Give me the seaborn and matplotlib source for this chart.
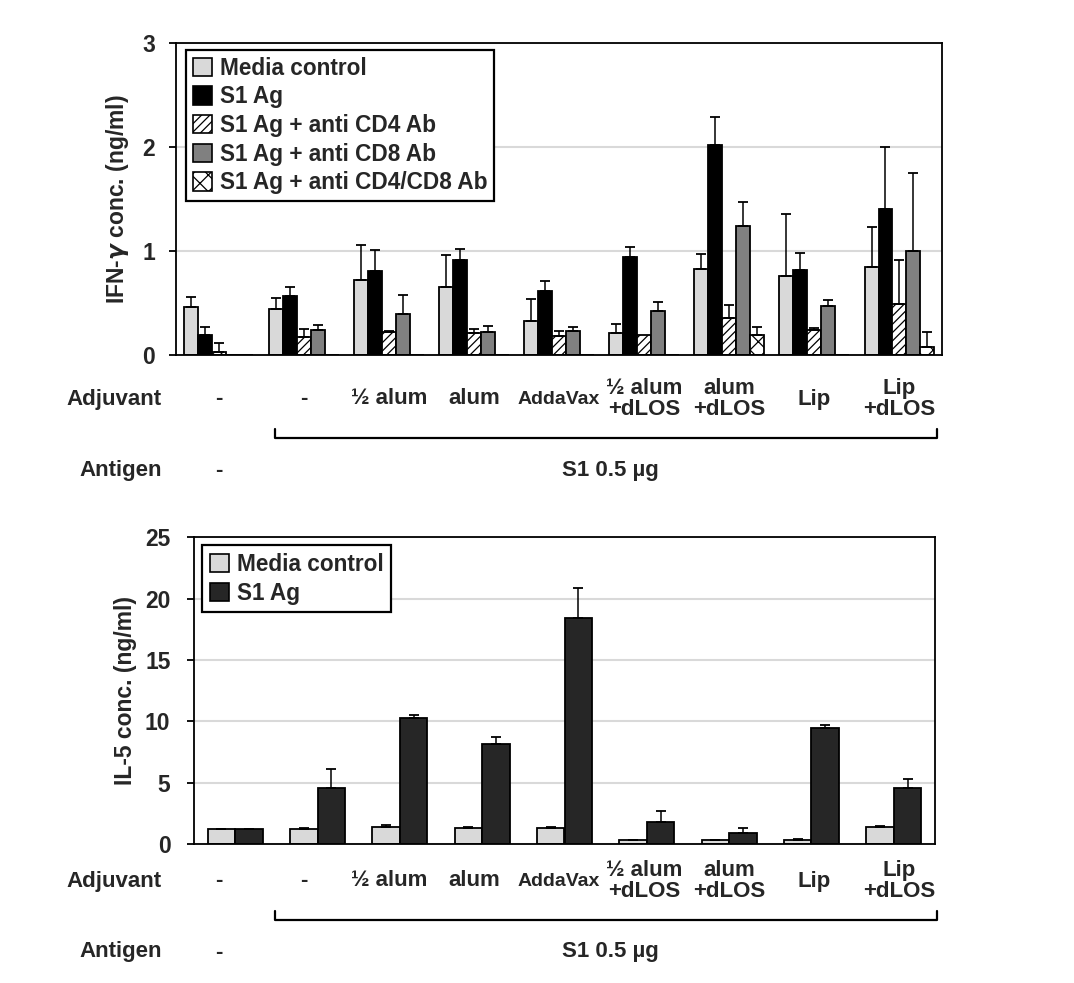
import matplotlib
matplotlib.use("Agg")
import matplotlib.pyplot as plt
import matplotlib.transforms as mtransforms
from matplotlib.patches import Patch
from matplotlib.lines import Line2D
import numpy as np
import pandas as pd
import seaborn as sns

# ---------------- data ----------------
groups = ["g0", "g1", "g2", "g3", "g4", "g5", "g6", "g7", "g8"]
adjuvant_labels = ["-", "-", "\u00bd alum", "alum", "AddaVax",
                   "\u00bd alum\n+dLOS", "alum\n+dLOS", "Lip", "Lip\n+dLOS"]
antigen_none = "-"
antigen_label = "S1 0.5 \u00b5g"

ifn_series = ["Media control", "S1 Ag", "S1 Ag + anti CD4 Ab",
              "S1 Ag + anti CD8 Ab", "S1 Ag + anti CD4/CD8 Ab"]
ifn_media = [0.46, 0.44, 0.72, 0.65, 0.33, 0.21, 0.83, 0.76, 0.85]
ifn_media_err = [0.10, 0.11, 0.34, 0.31, 0.21, 0.09, 0.14, 0.59, 0.38]
ifn_s1 = [0.19, 0.57, 0.81, 0.91, 0.61, 0.94, 2.02, 0.82, 1.40]
ifn_s1_err = [0.08, 0.08, 0.20, 0.11, 0.10, 0.10, 0.27, 0.16, 0.60]
ifn_cd4 = [0.03, 0.17, 0.22, 0.21, 0.18, 0.19, 0.36, 0.24, 0.49]
ifn_cd4_err = [0.09, 0.08, 0.01, 0.04, 0.05, 0.0, 0.12, 0.02, 0.42]
ifn_cd8 = [0.0, 0.24, 0.39, 0.22, 0.23, 0.42, 1.24, 0.47, 1.00]
ifn_cd8_err = [0.0, 0.05, 0.19, 0.06, 0.04, 0.09, 0.23, 0.06, 0.75]
ifn_cd48 = [0.0, 0.0, 0.0, 0.0, 0.0, 0.0, 0.19, 0.0, 0.08]
ifn_cd48_err = [0.0, 0.0, 0.0, 0.0, 0.0, 0.0, 0.08, 0.0, 0.14]

il5_series = ["Media control", "S1 Ag"]
il5_media = [1.22, 1.25, 1.38, 1.33, 1.33, 0.33, 0.33, 0.35, 1.36]
il5_media_err = [0.04, 0.05, 0.14, 0.05, 0.05, 0.03, 0.03, 0.03, 0.11]
il5_s1 = [1.22, 4.56, 10.26, 8.14, 18.4, 1.79, 0.90, 9.47, 4.53]
il5_s1_err = [0.04, 1.52, 0.22, 0.55, 2.47, 0.87, 0.38, 0.27, 0.76]

ifn_values = [ifn_media, ifn_s1, ifn_cd4, ifn_cd8, ifn_cd48]
ifn_errs = [ifn_media_err, ifn_s1_err, ifn_cd4_err, ifn_cd8_err, ifn_cd48_err]
il5_values = [il5_media, il5_s1]
il5_errs = [il5_media_err, il5_s1_err]

# ---------------- style ----------------
sns.set_style("white")
plt.rcParams["font.family"] = ["Liberation Sans", "DejaVu Sans"]
plt.rcParams["font.weight"] = "bold"
plt.rcParams["axes.labelweight"] = "bold"
plt.rcParams["hatch.linewidth"] = 0.9
plt.rcParams["hatch.color"] = "black"

ifn_colors = {"Media control": "#d9d9d9", "S1 Ag": "#000000",
              "S1 Ag + anti CD4 Ab": "#ffffff", "S1 Ag + anti CD8 Ab": "#808080",
              "S1 Ag + anti CD4/CD8 Ab": "#ffffff"}
ifn_hatches = {"S1 Ag + anti CD4 Ab": "////", "S1 Ag + anti CD4/CD8 Ab": "xx"}
il5_colors = {"Media control": "#d9d9d9", "S1 Ag": "#262626"}

W, H = 1074, 983
fig = plt.figure(figsize=(W / 100, H / 100), dpi=100)


def px_axes(l, t, r, b):
    return fig.add_axes([l / W, 1 - b / H, (r - l) / W, (b - t) / H])


ax1 = px_axes(176, 42.7, 942, 355)
ax2 = px_axes(194, 537.3, 935, 844)


def long_df(series, values):
    rows = []
    for s, vals in zip(series, values):
        for g, v in zip(groups, vals):
            rows.append({"group": g, "series": s, "value": v})
    return pd.DataFrame(rows)


def draw(ax, series, values, errs, colors, hatches, width, ymax, ystep, tpad):
    df = long_df(series, values)
    sns.barplot(data=df, x="group", y="value", hue="series", order=groups,
                hue_order=series, palette=colors, width=width, dodge=True,
                edgecolor="black", linewidth=1.3, errorbar=None, legend=False,
                saturation=1, ax=ax)
    for s, cont, err in zip(series, ax.containers, errs):
        xs, ys, es = [], [], []
        for bar, e in zip(cont.patches, err):
            if s in hatches:
                bar.set_hatch(hatches[s])
            if e > 0:
                xs.append(bar.get_x() + bar.get_width() / 2)
                ys.append(bar.get_height())
                es.append(e)
        if xs:
            ax.errorbar(xs, ys, yerr=[np.zeros(len(es)), es], fmt="none",
                        ecolor="black", elinewidth=1.1, capsize=3.5,
                        capthick=1.3, zorder=1)
    ax.set_xlim(-0.5, len(groups) - 0.5)
    ax.set_ylim(0, ymax)
    ax.set_yticks(np.arange(0, ymax + 0.001, ystep))
    ax.yaxis.grid(True, color="#d9d9d9", linewidth=1.5)
    ax.set_axisbelow(True)
    ax.set_xticks([])
    ax.set_xlabel("")
    for sp in ax.spines.values():
        sp.set_visible(True)
        sp.set_color("black")
        sp.set_linewidth(1.3)
    ax.tick_params(axis="y", which="major", direction="out", length=5,
                   width=1.3, color="black", left=True, pad=tpad, labelsize=16.5)
    for lbl in ax.get_yticklabels():
        lbl.set_fontweight("bold")


draw(ax1, ifn_series, ifn_values, ifn_errs, ifn_colors, ifn_hatches, 0.82, 3, 1, 10)
draw(ax2, il5_series, il5_values, il5_errs, il5_colors, {}, 0.672, 25, 5, 12)

ax1.set_ylabel("IFN-$\\gamma$ conc. (ng/ml)", fontsize=16.5, fontweight="bold",
               labelpad=8)
ax2.set_ylabel("IL-5 conc. (ng/ml)", fontsize=16.5, fontweight="bold", labelpad=6)

# legends
h1 = [Patch(facecolor=ifn_colors[s], edgecolor="black", linewidth=1.2,
            hatch=ifn_hatches.get(s, None)) for s in ifn_series]
leg1 = ax1.legend(h1, ifn_series, loc="upper left", bbox_to_anchor=(0.013, 0.977),
                  borderaxespad=0, fontsize=16.3, frameon=True, fancybox=False,
                  edgecolor="black", handlelength=0.85, handleheight=0.85,
                  handletextpad=0.35, labelspacing=0.25, borderpad=0.3)
leg1.get_frame().set_linewidth(1.6)
leg1.get_frame().set_alpha(1)

h2 = [Patch(facecolor=il5_colors[s], edgecolor="black", linewidth=1.2)
      for s in il5_series]
leg2 = ax2.legend(h2, il5_series, loc="upper left", bbox_to_anchor=(0.0104, 0.975),
                  borderaxespad=0, fontsize=16.3, frameon=True, fancybox=False,
                  edgecolor="black", handlelength=0.85, handleheight=0.85,
                  handletextpad=0.35, labelspacing=0.25, borderpad=0.35)
leg2.get_frame().set_linewidth(1.6)
leg2.get_frame().set_alpha(1)

# annotation rows (x positions follow the top panel's groups)
trans = mtransforms.blended_transform_factory(ax1.transData, fig.transFigure)


def fy(py):
    return 1 - py / H


for row_y, bracket_y, antigen_y in [(399, 438, 470), (881, 920, 952)]:
    fig.text(162 / W, fy(row_y), "Adjuvant", ha="right", va="center",
             fontsize=16, fontweight="bold")
    fig.text(162 / W, fy(antigen_y), "Antigen", ha="right", va="center",
             fontsize=16, fontweight="bold")
    for i, lab in enumerate(adjuvant_labels):
        fs = 14 if lab == "AddaVax" else 16
        fig.text(i, fy(row_y), lab, transform=trans, ha="center", va="center",
                 fontsize=fs, fontweight="bold", linespacing=1.05)
    fig.text(0, fy(antigen_y), antigen_none, transform=trans, ha="center",
             va="center", fontsize=16, fontweight="bold")
    fig.text(610 / W, fy(antigen_y), antigen_label, ha="center", va="center",
             fontsize=16, fontweight="bold")
    xl, xr = 275 / W, 937 / W
    yb, yt = fy(bracket_y), fy(bracket_y - 9)
    fig.add_artist(Line2D([xl, xl, xr, xr], [yt, yb, yb, yt],
                          transform=fig.transFigure, color="black", linewidth=1.6))

fig.savefig("out.png", dpi=100, facecolor="white")
